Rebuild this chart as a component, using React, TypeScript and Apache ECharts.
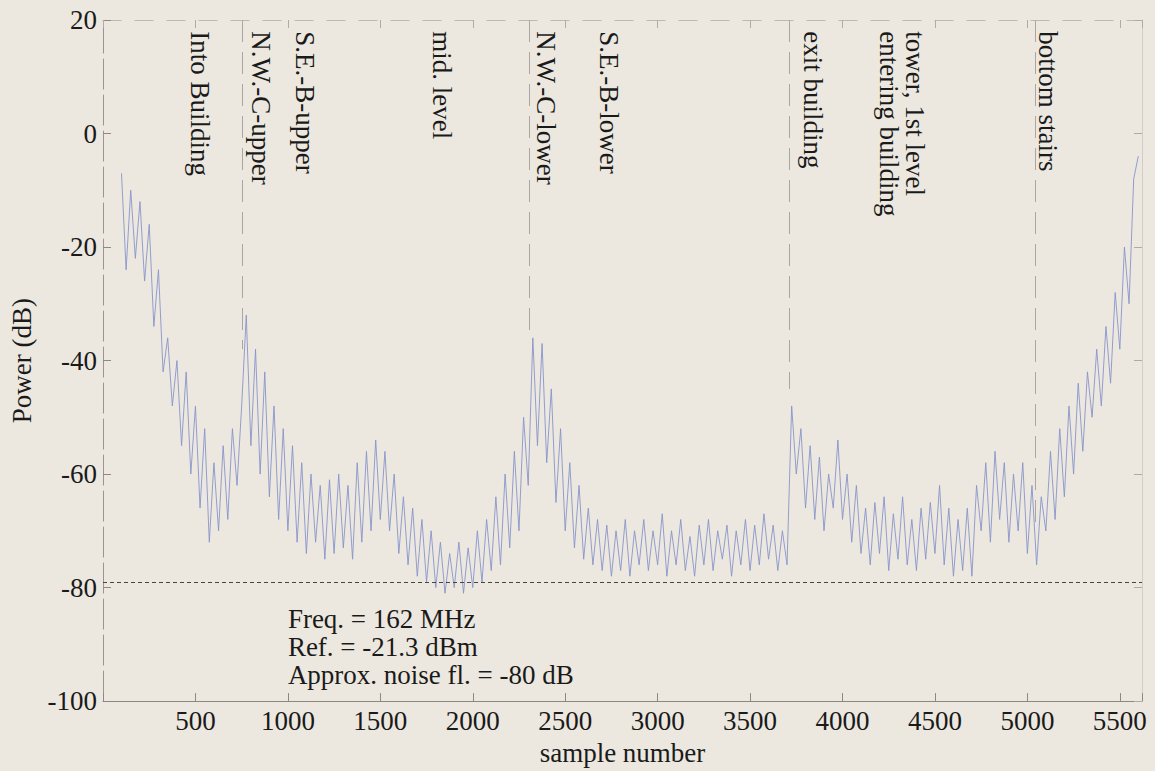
import React, { useEffect, useRef } from "react";
import * as echarts from "echarts";

// ---------- data ----------
const sampleStart = 100;
const sampleStep = 25;
// received power (dB), every 25 samples (alternating upper / lower edge of the noisy band)
const power: number[] = [
  -7, -24, -10, -22, -12, -26, -16, -34, -24, -42, -36, -48, -40, -55, -42, -60, -48, -66, -52, -72,
  -58, -70, -55, -68, -52, -62, -48, -32, -55, -38, -60, -42, -64, -48, -68, -52, -70, -55, -72, -58,
  -74, -60, -72, -62, -75, -61, -74, -60, -73, -62, -75, -58, -72, -56, -70, -54, -68, -56, -70, -60,
  -74, -64, -76, -66, -78, -68, -79, -70, -80, -72, -81, -74, -80, -72, -81, -73, -80, -70, -79, -68,
  -77, -64, -76, -60, -73, -56, -70, -50, -62, -36, -55, -37, -58, -45, -65, -52, -70, -58, -73, -62,
  -75, -66, -76, -68, -77, -69, -78, -70, -77, -68, -78, -70, -76, -68, -77, -70, -76, -67, -78, -70,
  -76, -68, -77, -71, -78, -69, -76, -68, -77, -70, -75, -69, -78, -70, -76, -68, -77, -69, -76, -67,
  -75, -69, -77, -70, -76, -48, -60, -52, -66, -55, -68, -57, -70, -60, -66, -54, -68, -60, -72, -62,
  -74, -66, -76, -65, -74, -64, -77, -67, -75, -64, -76, -68, -77, -66, -75, -65, -74, -62, -76, -66,
  -78, -68, -77, -66, -78, -62, -70, -58, -72, -56, -68, -58, -72, -60, -70, -58, -74, -62, -76, -64,
  -70, -56, -68, -52, -64, -48, -60, -44, -56, -42, -50, -38, -48, -34, -44, -28, -38, -20, -30, -8,
  -4,
];

const xMin = 0;
const xMax = 5620;
const xInterval = 500;
const yMin = -100;
const yMax = 20;
const yInterval = 20;

const noiseFloor = -79;

// event labels (sample number of the label, text)
const eventLabelSamples = [523, 857, 1095, 1835, 2397, 2738, 3840, 4322, 5114];
const eventLabelTexts = [
  "Into Building",
  "N.W.-C-upper",
  "S.E.-B-upper",
  "mid. level",
  "N.W.-C-lower",
  "S.E.-B-lower",
  "exit building",
  "tower, 1st level\nentering building",
  "bottom stairs",
];
const labelTopValue = 18;

// dashed event marker lines: sample, lower end (dB)
const markerSamples = [753, 2304, 3714, 5043];
const markerEnds = [-38, -36, -45, -70];

const annotationLines = ["Freq. = 162 MHz", "Ref. = -21.3 dBm", "Approx. noise fl. = -80 dB"];
const annotationAt = [1000, -83];

const FONT = "Liberation Serif, Times New Roman, serif";
const FS = 27;

export default function App() {
  const ref = useRef<HTMLDivElement>(null);

  useEffect(() => {
    if (!ref.current) return;
    const chart = echarts.init(ref.current, undefined, { renderer: "svg" });
    const data = power.map((v, i) => [sampleStart + i * sampleStep, v]);

    const axisLineColor = "#8d8883";
    const labelFmt = (v: number) => (v % xInterval === 0 && v > 0 ? String(v) : "");

    chart.setOption({
      animation: false,
      backgroundColor: "#ece8df",
      textStyle: { fontFamily: FONT },
      grid: { left: 103, right: 13, top: 20, bottom: 60, containLabel: false },
      xAxis: [
        {
          type: "value",
          min: xMin,
          max: xMax,
          interval: xInterval,
          name: "sample number",
          nameLocation: "middle",
          nameGap: 33,
          nameTextStyle: { fontFamily: FONT, fontSize: FS, color: "#1a1a1a" },
          axisLine: { onZero: false, lineStyle: { color: axisLineColor, width: 1 } },
          axisTick: { inside: true, length: 8, lineStyle: { color: axisLineColor } },
          axisLabel: { formatter: labelFmt, fontFamily: FONT, fontSize: FS, color: "#1a1a1a", margin: 6 },
          splitLine: { show: false },
        },
        {
          type: "value",
          position: "top",
          min: xMin,
          max: xMax,
          interval: xInterval,
          axisLine: { onZero: false, lineStyle: { color: "#bdb9b2", width: 1, type: [18, 14] } },
          axisTick: { inside: true, length: 8, lineStyle: { color: "#b0aba4" } },
          axisLabel: { show: false },
          splitLine: { show: false },
        },
      ],
      yAxis: [
        {
          type: "value",
          min: yMin,
          max: yMax,
          interval: yInterval,
          name: "Power (dB)",
          nameLocation: "middle",
          nameRotate: 90,
          nameGap: 68,
          nameTextStyle: { fontFamily: FONT, fontSize: FS, color: "#1a1a1a" },
          axisLine: { show: true, onZero: false, lineStyle: { color: "#9a958f", width: 1, type: [30, 6] } },
          axisTick: { show: true, inside: true, length: 8, lineStyle: { color: axisLineColor } },
          axisLabel: { fontFamily: FONT, fontSize: FS, color: "#1a1a1a", margin: 6 },
          splitLine: { show: false },
        },
        {
          type: "value",
          position: "right",
          min: yMin,
          max: yMax,
          interval: yInterval,
          axisLine: { show: true, onZero: false, lineStyle: { color: "#d2cec7", width: 1 } },
          axisTick: { show: true, inside: true, length: 8, lineStyle: { color: "#b0aba4" } },
          axisLabel: { show: false },
          splitLine: { show: false },
        },
      ],
      series: [
        {
          type: "line",
          data,
          xAxisIndex: 0,
          yAxisIndex: 0,
          showSymbol: false,
          symbol: "none",
          lineStyle: { color: "#8894cc", width: 0.9 },
          z: 3,
          markLine: {
            silent: true,
            symbol: "none",
            label: { show: false },
            data: [
              [
                { coord: [xMin, noiseFloor], lineStyle: { color: "#4a4440", type: [4, 3], width: 1 } },
                { coord: [xMax, noiseFloor] },
              ],
              ...markerSamples.map((s, i) => [
                { coord: [s, yMax], lineStyle: { color: "#aba69f", type: [22, 10], width: 1 } },
                { coord: [s, markerEnds[i]] },
              ]),
            ],
          },
        },
      ],
    });

    const graphics: any[] = [];
    eventLabelSamples.forEach((s, i) => {
      const p = chart.convertToPixel({ gridIndex: 0 }, [s, labelTopValue]) as number[];
      graphics.push({
        type: "text",
        x: p[0],
        y: p[1],
        rotation: -Math.PI / 2,
        silent: true,
        style: {
          text: eventLabelTexts[i],
          fontFamily: FONT,
          fontSize: FS,
          lineHeight: 26,
          fill: "#1a1a1a",
          align: "left",
          verticalAlign: "middle",
        },
      });
    });
    const ap = chart.convertToPixel({ gridIndex: 0 }, annotationAt) as number[];
    graphics.push({
      type: "text",
      x: ap[0],
      y: ap[1],
      silent: true,
      style: {
        text: annotationLines.join("\n"),
        fontFamily: FONT,
        fontSize: FS,
        lineHeight: 28,
        fill: "#1a1a1a",
        align: "left",
        verticalAlign: "top",
      },
    });
    chart.setOption({ graphic: graphics });

    return () => chart.dispose();
  }, []);

  return (
    <div
      ref={ref}
      style={{ position: "absolute", left: 0, top: 0, width: 1155, height: 771 }}
    />
  );
}
